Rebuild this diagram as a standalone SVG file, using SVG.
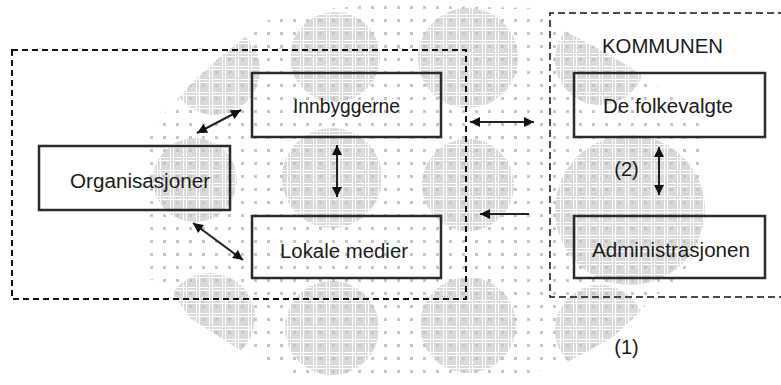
<svg xmlns="http://www.w3.org/2000/svg" width="781" height="385" viewBox="0 0 781 385">
  <style>
    .box { fill: none; stroke: #2a2a2a; stroke-width: 2.5; }
    .lbl { font-family: "Liberation Sans", Arial, sans-serif; font-size: 20px; fill: #1a1a1a; text-anchor: middle; }
    .frame { fill: none; stroke: #111; }
    .conn { stroke: #222; stroke-width: 2; fill: none; marker-start: url(#ah); marker-end: url(#ah); }
  </style>
  <defs>
    <pattern id="dots" patternUnits="userSpaceOnUse" x="0" y="0" width="13" height="13">
      <rect x="7" y="6" width="3" height="3" fill="#c6c6c6"/>
    </pattern>
    <pattern id="hatch" patternUnits="userSpaceOnUse" x="0" y="0" width="13" height="13">
      <rect width="13" height="13" fill="#d9d9d9"/>
      <rect x="1" y="0" width="1" height="13" fill="#fff"/>
      <rect x="4" y="0" width="1" height="13" fill="#fff"/>
      <rect x="0" y="1" width="13" height="1" fill="#fff"/>
      <rect x="0" y="4" width="13" height="1" fill="#fff"/>
      <rect x="7" y="6" width="3" height="3" fill="#c6c6c6"/>
    </pattern>
    <clipPath id="cloudClip">
      <path id="cloudPath" d="M373,5 L300,11 L277,14 L250,33 L220,57 L190,85 L170,108 L155,122 L143,140 L142,265 L146,278 L167,285 L190,318 L243,352 L268,362 L295,374 L325,381 L380,374 L530,373 L560,366 L590,350 L613,337 L640,312 L653,297 L680,280 L695,250 L708,210 L708,140 L692,112 L660,88 L630,67 L595,47 L557,27 L530,8 Z"/>
    </clipPath>
    <marker id="ah" viewBox="0 0 10 10" refX="10" refY="5" markerWidth="11" markerHeight="10" markerUnits="userSpaceOnUse" orient="auto-start-reverse">
      <path d="M0,0 L10,5 L0,10 Z" fill="#111"/>
    </marker>
    <marker id="ahEnd" viewBox="0 0 10 10" refX="10" refY="5" markerWidth="11" markerHeight="10" markerUnits="userSpaceOnUse" orient="auto">
      <path d="M0,0 L10,5 L0,10 Z" fill="#111"/>
    </marker>
  </defs>

  <rect width="781" height="385" fill="#fff"/>

  <g id="background" clip-path="url(#cloudClip)">
    <rect x="130" y="0" width="590" height="385" fill="url(#dots)"/>
    <g fill="url(#hatch)">
      <circle cx="215" cy="70" r="45"/>
      <circle cx="335" cy="57" r="45"/>
      <circle cx="468" cy="58" r="50"/>
      <circle cx="600" cy="60" r="45"/>
      <circle cx="195" cy="180" r="42"/>
      <circle cx="332" cy="178" r="50"/>
      <circle cx="468" cy="185" r="46"/>
      <circle cx="630" cy="210" r="75"/>
      <circle cx="210" cy="318" r="45"/>
      <circle cx="332" cy="328" r="47"/>
      <circle cx="468" cy="325" r="48"/>
      <circle cx="600" cy="330" r="45"/>
    </g>
  </g>

  <g id="group-left">
    <rect class="frame" x="12" y="50" width="454" height="249" stroke-width="2" stroke-dasharray="6 4"/>
  </g>
  <g id="group-kommunen">
    <path class="frame" d="M785,13 L550,13 L550,297 L785,297" stroke-width="1.5" stroke-dasharray="7 4"/>
    <text class="lbl" x="662.5" y="53" textLength="121" lengthAdjust="spacingAndGlyphs">KOMMUNEN</text>
  </g>

  <g id="connectors">
    <line class="conn" x1="197" y1="133" x2="241" y2="110"/>
    <line class="conn" x1="337" y1="145" x2="337" y2="197"/>
    <line class="conn" x1="193" y1="223" x2="243" y2="260"/>
    <line class="conn" x1="470" y1="122" x2="534" y2="122"/>
    <line stroke="#222" stroke-width="2" x1="529" y1="214" x2="480" y2="214" marker-end="url(#ahEnd)"/>
    <line class="conn" stroke-width="1.5" x1="659" y1="147" x2="659" y2="195"/>
  </g>

  <g id="node-organisasjoner">
    <rect class="box" x="39" y="146" width="191" height="64"/>
    <text class="lbl" x="140" y="188" textLength="140" lengthAdjust="spacingAndGlyphs">Organisasjoner</text>
  </g>
  <g id="node-innbyggerne">
    <rect class="box" x="252" y="73" width="189" height="64"/>
    <text class="lbl" x="346.5" y="113" textLength="107" lengthAdjust="spacingAndGlyphs">Innbyggerne</text>
  </g>
  <g id="node-lokale-medier">
    <rect class="box" x="252" y="216" width="189" height="62"/>
    <text class="lbl" x="344" y="258" textLength="128" lengthAdjust="spacingAndGlyphs">Lokale medier</text>
  </g>
  <g id="node-folkevalgte">
    <rect class="box" x="574" y="73" width="191" height="64"/>
    <text class="lbl" x="668" y="113" textLength="130" lengthAdjust="spacingAndGlyphs">De folkevalgte</text>
  </g>
  <g id="node-administrasjonen">
    <rect class="box" x="574" y="216" width="191" height="62"/>
    <text class="lbl" x="671" y="257" textLength="158" lengthAdjust="spacingAndGlyphs">Administrasjonen</text>
  </g>

  <g id="labels">
    <text class="lbl" x="626.5" y="176">(2)</text>
    <text class="lbl" x="626.5" y="354">(1)</text>
  </g>
</svg>
